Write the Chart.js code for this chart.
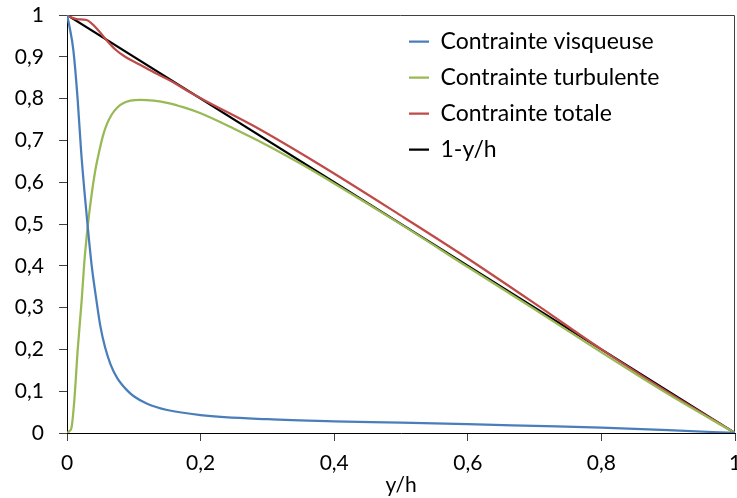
<!DOCTYPE html>
<html>
<head>
<meta charset="utf-8">
<script src="https://cdn.jsdelivr.net/npm/chart.js@4/dist/chart.umd.min.js"></script>
<style>
  html, body { margin: 0; padding: 0; background: #fff; }
  #wrap { width: 737px; height: 498px; position: relative; }
</style>
</head>
<body>
<div id="wrap"><canvas id="c" width="737" height="498"></canvas></div>
<script>
// ---- Data ----
const seriesNames = ["Contrainte visqueuse", "Contrainte turbulente", "Contrainte totale", "1-y/h"];

const xVisq = [0, 0.004, 0.0095, 0.016, 0.021, 0.026, 0.031, 0.037, 0.044, 0.05, 0.057, 0.065, 0.075, 0.09, 0.1, 0.12, 0.15, 0.2, 0.3, 0.4, 0.5, 0.6, 0.7, 0.8, 0.9, 1];
const yVisq = [1, 0.97, 0.916, 0.797, 0.677, 0.58, 0.494, 0.40, 0.318, 0.255, 0.205, 0.165, 0.132, 0.102, 0.088, 0.07, 0.055, 0.043, 0.033, 0.028, 0.025, 0.021, 0.017, 0.013, 0.007, 0];

const xTurb = [0, 0.004, 0.007, 0.011, 0.016, 0.022, 0.026, 0.031, 0.036, 0.042, 0.048, 0.054, 0.06, 0.067, 0.075, 0.082, 0.095, 0.11, 0.13, 0.15, 0.175, 0.2, 0.25, 0.3, 0.35, 0.4, 0.5, 0.6, 0.7, 0.8, 0.9, 1];
const yTurb = [0, 0.005, 0.015, 0.079, 0.199, 0.318, 0.41, 0.494, 0.56, 0.625, 0.672, 0.712, 0.74, 0.762, 0.778, 0.787, 0.795, 0.797, 0.795, 0.79, 0.779, 0.765, 0.728, 0.688, 0.644, 0.597, 0.499, 0.397, 0.296, 0.193, 0.093, 0];

const xTot = [0, 0.005, 0.0145, 0.029, 0.042, 0.057, 0.072, 0.087, 0.107, 0.132, 0.157, 0.182, 0.207, 0.281, 0.379, 0.5, 0.588, 0.7, 0.8, 0.9, 1];
const yTot = [1, 0.995, 0.99, 0.988, 0.972, 0.944, 0.918, 0.9, 0.883, 0.861, 0.841, 0.817, 0.795, 0.733, 0.641, 0.52, 0.43, 0.31, 0.2, 0.097, 0];

const xRef = [0, 1];
const yRef = [1, 0];

const xTicks = [0, 0.2, 0.4, 0.6, 0.8, 1];
const yTicks = [0, 0.1, 0.2, 0.3, 0.4, 0.5, 0.6, 0.7, 0.8, 0.9, 1];
const xTitle = "y/h";

// ---- Build ----
const toPts = (xs, ys) => xs.map((x, i) => ({ x: x, y: ys[i] }));
const colors = ["#4A7EBB", "#98B954", "#BE4B48", "#000000"];
const pairs = [[xVisq, yVisq], [xTurb, yTurb], [xTot, yTot], [xRef, yRef]];

const datasets = pairs.map((p, i) => ({
  label: seriesNames[i],
  data: toPts(p[0], p[1]),
  borderColor: colors[i],
  backgroundColor: colors[i],
  borderWidth: 2.25,
  pointRadius: 0,
  pointHoverRadius: 0,
  fill: false,
  cubicInterpolationMode: 'monotone',
  tension: 0.4
}));

const fmt = v => {
  const r = Math.round(v * 10) / 10;
  return String(r).replace('.', ',');
};

const FONT = "Lato";

const framePlugin = {
  id: 'frame',
  beforeDatasetsDraw(chart) {
    const a = chart.chartArea, ctx = chart.ctx;
    ctx.save();
    ctx.strokeStyle = '#404040';
    ctx.lineWidth = 1;
    ctx.beginPath();
    ctx.moveTo(a.left, a.top + 0.5);
    ctx.lineTo(a.right - 0.5, a.top + 0.5);
    ctx.lineTo(a.right - 0.5, a.bottom);
    ctx.stroke();
    ctx.restore();
  },
  afterLayout(chart) {
    const lg = chart.legend;
    if (lg) {
      const w = lg.width, h = lg.height;
      lg.left = 396; lg.top = 17;
      lg.right = lg.left + w; lg.bottom = lg.top + h;
    }
  }
};

new Chart(document.getElementById('c'), {
  type: 'line',
  data: { datasets: datasets },
  plugins: [framePlugin],
  options: {
    responsive: false,
    animation: false,
    events: [],
    layout: { padding: { left: 0, right: 2, top: 15, bottom: 0 } },
    plugins: {
      legend: {
        position: 'chartArea',
        align: 'start',
        labels: {
          usePointStyle: true,
          pointStyle: 'line',
          pointStyleWidth: 20,
          boxHeight: 22,
          color: '#000',
          padding: 13,
          font: { family: FONT, size: 23 }
        }
      },
      tooltip: { enabled: false }
    },
    scales: {
      x: {
        type: 'linear',
        min: 0, max: 1,
        afterBuildTicks: s => { s.ticks = xTicks.map(v => ({ value: v })); },
        afterFit: s => { s.height = 65; s.paddingRight = 0; s.paddingLeft = 0; },
        ticks: {
          callback: v => fmt(v),
          color: '#000',
          padding: 10,
          maxRotation: 0,
          autoSkip: false,
          font: { family: FONT, size: 21 }
        },
        grid: { drawOnChartArea: false, tickLength: 8, color: '#404040', lineWidth: 1 },
        border: { color: '#000', width: 1 },
        title: { display: true, text: xTitle, color: '#000', padding: { top: 0, bottom: 0 }, font: { family: FONT, size: 21 } }
      },
      y: {
        type: 'linear',
        min: 0, max: 1,
        afterBuildTicks: s => { s.ticks = yTicks.map(v => ({ value: v })); },
        afterFit: s => { s.width = 67; s.paddingTop = 0; s.paddingBottom = 0; },
        ticks: {
          callback: v => fmt(v),
          color: '#000',
          padding: 15,
          autoSkip: false,
          font: { family: FONT, size: 21 }
        },
        grid: { drawOnChartArea: false, tickLength: 8, color: '#404040', lineWidth: 1 },
        border: { color: '#000', width: 1 }
      }
    }
  }
});
</script>
</body>
</html>
